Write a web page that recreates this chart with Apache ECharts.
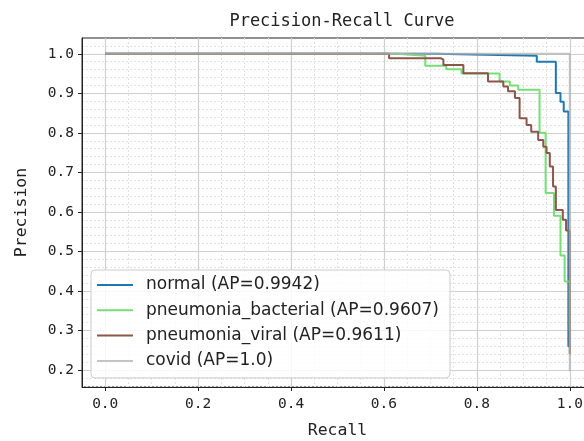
<!DOCTYPE html>
<html>
<head>
<meta charset="utf-8">
<script src="https://cdn.jsdelivr.net/npm/echarts@6/dist/echarts.min.js"></script>
<style>
html,body{margin:0;padding:0;background:#fff;}
#chart{width:584px;height:441px;}
</style>
</head>
<body>
<div id="chart"></div>
<script>
const seriesNames = ['normal (AP=0.9942)', 'pneumonia_bacterial (AP=0.9607)', 'pneumonia_viral (AP=0.9611)', 'covid (AP=1.0)'];

const recallNormal    = [0, 0.710, 0.929, 0.970, 0.980, 0.987, 0.997, 1.0];
const precisionNormal = [1.0, 0.995, 0.980, 0.901, 0.879, 0.854, 0.260, 0.260];

const recallBacterial    = [0, 0.627, 0.689, 0.734, 0.767, 0.849, 0.871, 0.889, 0.935, 0.948, 0.966, 0.980, 0.989, 1.0];
const precisionBacterial = [1.0, 0.995, 0.970, 0.961, 0.950, 0.930, 0.920, 0.909, 0.800, 0.648, 0.590, 0.490, 0.424, 0.300];

const recallViral    = [0, 0.611, 0.722, 0.728, 0.771, 0.824, 0.857, 0.867, 0.882, 0.892, 0.907, 0.917, 0.932, 0.943, 0.950, 0.957, 0.964, 0.970, 0.985, 0.992, 1.0];
const precisionViral = [1.0, 0.989, 0.985, 0.972, 0.951, 0.930, 0.917, 0.905, 0.888, 0.837, 0.820, 0.803, 0.782, 0.765, 0.749, 0.715, 0.664, 0.605, 0.580, 0.553, 0.240];

const recallCovid    = [0, 1.0, 1.0];
const precisionCovid = [1.0, 1.0, 0.197];

const xTickValues = [0, 0.2, 0.4, 0.6, 0.8, 1.0];
const yTickValues = [0.2, 0.3, 0.4, 0.5, 0.6, 0.7, 0.8, 0.9, 1.0];

const colors = ['#1f77b4', '#77dd77', '#8c564b', '#b0b0b0'];
const opacities = [1, 1, 1, 0.75];

function pairs(xs, ys) { return xs.map((x, i) => [x, ys[i]]); }
const allData = [
  pairs(recallNormal, precisionNormal),
  pairs(recallBacterial, precisionBacterial),
  pairs(recallViral, precisionViral),
  pairs(recallCovid, precisionCovid)
];

const mono = 'DejaVu Sans Mono';
const chart = echarts.init(document.getElementById('chart'), null, {renderer: 'canvas'});
chart.setOption({
  animation: false,
  backgroundColor: '#ffffff',
  title: {
    text: 'Precision-Recall Curve',
    left: 337, top: 8, textAlign: 'center',
    textStyle: {fontFamily: mono, fontSize: 17, fontWeight: 'normal', color: '#222'}
  },
  grid: {
    left: 82, top: 38, width: 511, height: 349,
    show: true, borderColor: '#222', borderWidth: 1, backgroundColor: 'transparent',
    containLabel: false, outerBoundsMode: 'none'
  },
  legend: {
    orient: 'vertical', left: 91, top: 270,
    data: seriesNames,
    icon: 'rect', itemWidth: 36, itemHeight: 2, itemGap: 5.3,
    padding: [5, 11, 7, 6],
    backgroundColor: 'rgba(255,255,255,0.85)',
    borderColor: '#cccccc', borderWidth: 1, borderRadius: 4,
    textStyle: {fontFamily: 'DejaVu Sans', fontSize: 17, color: '#222', lineHeight: 20, padding: [0, 0, 0, 8]},
    selectedMode: false
  },
  xAxis: {
    type: 'value', min: -0.05, max: 1.05, minInterval: 0.2, maxInterval: 0.2, splitNumber: 5,
    name: 'Recall', nameLocation: 'middle', nameGap: 35,
    nameTextStyle: {fontFamily: mono, fontSize: 16.5, color: '#222'},
    axisLine: {show: true, onZero: false, lineStyle: {color: '#222', width: 1}},
    axisTick: {show: true, inside: false, length: 4, customValues: xTickValues, lineStyle: {color: '#222'}},
    axisLabel: {customValues: xTickValues, margin: 10, fontFamily: mono, fontSize: 14.5, color: '#222',
      hideOverlap: false, formatter: v => v.toFixed(1)},
    splitLine: {show: true, lineStyle: {color: '#cfcfcf', width: 1.2}},
    minorTick: {show: false, splitNumber: 4},
    minorSplitLine: {show: true, lineStyle: {color: '#e2e2e2', width: 1, type: [2, 2]}}
  },
  yAxis: {
    type: 'value', min: 0.157, max: 1.04, minInterval: 0.1, maxInterval: 0.1, splitNumber: 8,
    name: 'Precision', nameLocation: 'middle', nameGap: 52, nameRotate: 90,
    nameTextStyle: {fontFamily: mono, fontSize: 16.5, color: '#222'},
    axisLine: {show: true, onZero: false, lineStyle: {color: '#222', width: 1}},
    axisTick: {show: true, inside: false, length: 4, customValues: yTickValues, lineStyle: {color: '#222'}},
    axisLabel: {customValues: yTickValues, margin: 8, fontFamily: mono, fontSize: 14.5, color: '#222',
      formatter: v => v.toFixed(1)},
    splitLine: {show: true, lineStyle: {color: '#cfcfcf', width: 1.2}},
    minorTick: {show: false, splitNumber: 5},
    minorSplitLine: {show: true, lineStyle: {color: '#e2e2e2', width: 1, type: [2, 2]}}
  },
  series: seriesNames.map((name, i) => ({
    name: name,
    type: 'line',
    step: 'end',
    showSymbol: false,
    symbol: 'none',
    color: colors[i],
    itemStyle: {color: i === 3 ? '#c4c4c4' : colors[i]},
    lineStyle: {color: colors[i], width: 2, opacity: opacities[i]},
    data: allData[i],
    z: 2 + i
  }))
});
</script>
</body>
</html>
